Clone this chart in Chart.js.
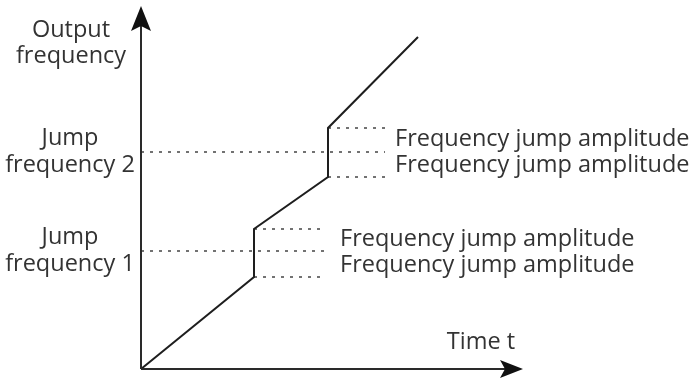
<!DOCTYPE html>
<html>
<head>
<meta charset="utf-8">
<script src="https://cdn.jsdelivr.net/npm/chart.js@4.4.1/dist/chart.umd.min.js"></script>
<style>
    html, body { margin: 0; padding: 0; background: #fff; }
    canvas { display: block; }
</style>
</head>
<body>
<canvas id="jumpChart" width="692" height="378"></canvas>
<script>
// output frequency vs time, with two skipped (jump) bands
const timeOut = [0, 11.3, 11.3, 18.7, 18.7, 27.7];
const freqOut = [0, 9.2, 14.0, 19.2, 24.1, 33.2];

const jumpFreq = [11.8, 21.7];          // jump frequency 1, 2
const jumpLow = [9.2, 19.2];            // lower edge of each band
const jumpHigh = [14.0, 24.1];          // upper edge of each band
const jumpStart = [11.3, 18.7];         // time where the band is met
const jumpEnd = [18.4, 24.4];           // where the dotted marks stop

const leftLabels = [["Jump", "frequency 1"], ["Jump", "frequency 2"]];
const bandLabel = "Frequency jump amplitude";
const xTitle = "Time t";
const yTitle = ["Output", "frequency"];

const X_MAX = 38.2;
const Y_MAX = 36.3;

const FONT = "23.5px 'Open Sans'";
const TEXT = "#333";

function pts(xs, ys) {
    return xs.map((x, i) => ({ x: x, y: ys[i] }));
}

const dotted = {
    borderColor: "#444",
    borderWidth: 1.5,
    borderDash: [3, 6],
    pointRadius: 0,
    showLine: true,
    fill: false
};

const datasets = [
    {
        data: pts(timeOut, freqOut),
        borderColor: "#1e1e1e",
        borderWidth: 2,
        pointRadius: 0,
        showLine: true,
        fill: false
    }
];

for (let i = 0; i < jumpFreq.length; i++) {
    datasets.push(Object.assign({ data: [{ x: 0, y: jumpFreq[i] }, { x: jumpEnd[i], y: jumpFreq[i] }] }, dotted));
    datasets.push(Object.assign({ data: [{ x: jumpStart[i], y: jumpHigh[i] }, { x: jumpEnd[i], y: jumpHigh[i] }] }, dotted));
    datasets.push(Object.assign({ data: [{ x: jumpStart[i], y: jumpLow[i] }, { x: jumpEnd[i], y: jumpLow[i] }] }, dotted));
}

const axesAndText = {
    id: "axesAndText",
    afterDraw(chart) {
        const c = chart.ctx;
        const a = chart.chartArea;
        const xs = chart.scales.x;
        const ys = chart.scales.y;
        const x0 = a.left, y0 = a.bottom;

        c.save();
        c.strokeStyle = "#2a2a2a";
        c.fillStyle = "#111";
        c.lineWidth = 2;

        // y axis + arrow
        c.beginPath();
        c.moveTo(x0, y0);
        c.lineTo(x0, a.top + 20);
        c.stroke();
        c.beginPath();
        c.moveTo(x0, a.top);
        c.lineTo(x0 - 10, a.top + 25);
        c.lineTo(x0, a.top + 20);
        c.lineTo(x0 + 10, a.top + 25);
        c.closePath();
        c.fill();

        // x axis + arrow
        c.beginPath();
        c.moveTo(x0, y0);
        c.lineTo(a.right - 18, y0);
        c.stroke();
        c.beginPath();
        c.moveTo(a.right, y0);
        c.lineTo(a.right - 23, y0 - 9);
        c.lineTo(a.right - 18, y0);
        c.lineTo(a.right - 23, y0 + 9);
        c.closePath();
        c.fill();

        c.font = FONT;
        c.fillStyle = TEXT;
        c.textBaseline = "middle";

        // axis titles
        c.textAlign = "center";
        c.fillText(yTitle[0], 71, 30);
        c.fillText(yTitle[1], 71, 56);
        c.fillText(xTitle, 481, 342);

        for (let i = 0; i < jumpFreq.length; i++) {
            const yj = ys.getPixelForValue(jumpFreq[i]);
            const yh = ys.getPixelForValue(jumpHigh[i]);
            const yl = ys.getPixelForValue(jumpLow[i]);

            c.textAlign = "center";
            c.fillText(leftLabels[i][0], 70, yj - 14);
            c.fillText(leftLabels[i][1], 70, yj + 13);

            c.textAlign = "left";
            const tx = xs.getPixelForValue(jumpEnd[i]) + (i === 0 ? 15 : 10);
            c.fillText(bandLabel, tx, (yh + yj) / 2 - 1);
            c.fillText(bandLabel, tx, (yl + yj) / 2 + 1);
        }
        c.restore();
    }
};

new Chart(document.getElementById("jumpChart").getContext("2d"), {
    type: "scatter",
    data: { datasets: datasets },
    options: {
        responsive: false,
        animation: false,
        devicePixelRatio: 1,
        layout: { padding: { left: 141, right: 169, top: 6, bottom: 9 } },
        plugins: {
            legend: { display: false },
            tooltip: { enabled: false }
        },
        scales: {
            x: { type: "linear", min: 0, max: X_MAX, display: false },
            y: { type: "linear", min: 0, max: Y_MAX, display: false }
        }
    },
    plugins: [axesAndText]
});
</script>
</body>
</html>
